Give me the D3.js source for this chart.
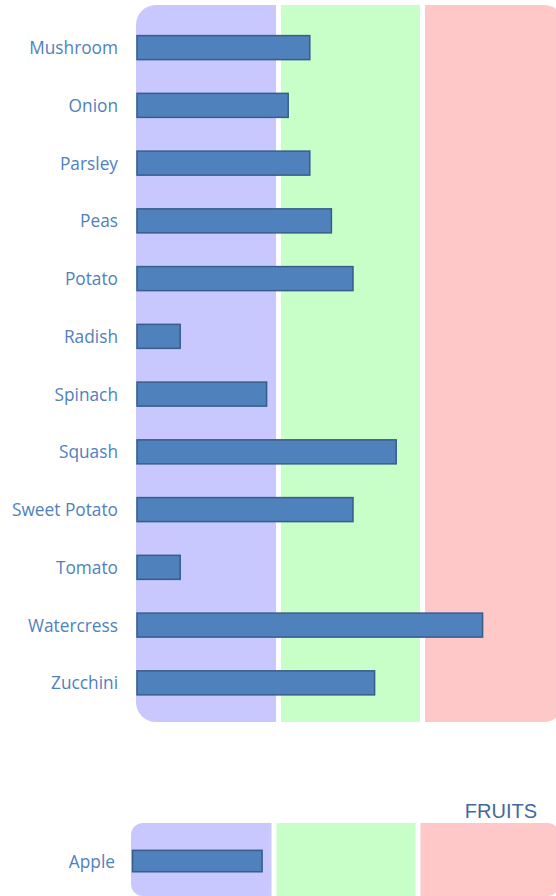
<!DOCTYPE html>
<html>
<head>
<meta charset="utf-8">
<script src="https://cdn.jsdelivr.net/npm/d3@7"></script>
<style>
  body { margin: 0; background: #fff; }
  svg { display: block; }
</style>
</head>
<body>
<div id="chart"></div>
<script>
// Data
const vegCategories = ["Mushroom", "Onion", "Parsley", "Peas", "Potato", "Radish", "Spinach",
                       "Squash", "Sweet Potato", "Tomato", "Watercress", "Zucchini"];
const vegValues = [8, 7, 8, 9, 10, 2, 6, 12, 10, 2, 16, 11];
const fruitCategories = ["Apple"];
const fruitValues = [6];
const bandEdges = [0, 20 / 3, 40 / 3, 20];
const bandColors = ["#c8c8ff", "#c8ffc8", "#ffc8c8"];

const width = 556, height = 896;

const svg = d3.select("#chart")
    .append("svg")
    .attr("width", width)
    .attr("height", height);

const defs = svg.append("defs");

function drawPanel(opts) {
    const g = svg.append("g");

    const x = d3.scaleLinear()
        .domain([0, 20])
        .range([opts.barLeft, opts.barLeft + 432]);

    const y = d3.scaleBand()
        .domain(opts.categories)
        .range([opts.top, opts.bottom])
        .paddingInner(0.584)
        .paddingOuter(0.5)
        .align(0.53);

    // rounded outline of the whole panel, used as a clip
    defs.append("clipPath")
        .attr("id", opts.id)
        .append("rect")
        .attr("x", opts.left)
        .attr("y", opts.top)
        .attr("width", x(20) - 5 - opts.left)
        .attr("height", opts.bottom - opts.top)
        .attr("rx", opts.radius)
        .attr("ry", opts.radius);

    // coloured bands
    g.append("g")
        .attr("clip-path", `url(#${opts.id})`)
        .selectAll("rect")
        .data(bandColors)
        .enter()
        .append("rect")
        .attr("x", (d, i) => i === 0 ? opts.left : x(bandEdges[i]))
        .attr("y", opts.top)
        .attr("width", (d, i) => x(bandEdges[i + 1]) - 5 - (i === 0 ? opts.left : x(bandEdges[i])))
        .attr("height", opts.bottom - opts.top)
        .attr("fill", d => d);

    // bars
    g.selectAll(".bar")
        .data(opts.values)
        .enter()
        .append("rect")
        .attr("class", "bar")
        .attr("x", x(0))
        .attr("y", (d, i) => y(opts.categories[i]))
        .attr("width", d => x(d) - x(0))
        .attr("height", y.bandwidth())
        .attr("fill", "#4f81bd")
        .attr("stroke", "#385d8a")
        .attr("stroke-width", 1.5);

    // category labels
    g.selectAll(".label")
        .data(opts.categories)
        .enter()
        .append("text")
        .attr("class", "label")
        .attr("x", opts.left - opts.labelGap)
        .attr("y", d => y(d) + y.bandwidth() / 2 + 0.5)
        .attr("dy", "0.35em")
        .attr("text-anchor", "end")
        .style("font-family", "'Open Sans', sans-serif")
        .style("font-size", "17.3px")
        .style("fill", "#4f81bd")
        .text(d => d);

    if (opts.title) {
        g.append("text")
            .attr("x", 537)
            .attr("y", opts.top - 5)
            .attr("text-anchor", "end")
            .style("font-family", "'Liberation Sans', Arial, sans-serif")
            .style("font-size", "20px")
            .style("fill", "#41699c")
            .text(opts.title);
    }
}

drawPanel({
    id: "clip-veg",
    categories: vegCategories,
    values: vegValues,
    left: 136,
    barLeft: 137,
    top: 5,
    bottom: 722,
    radius: 20,
    labelGap: 18
});

drawPanel({
    id: "clip-fruit",
    categories: fruitCategories,
    values: fruitValues,
    left: 131,
    barLeft: 132.5,
    top: 823,
    bottom: 896,
    radius: 12,
    labelGap: 16,
    title: "FRUITS"
});
</script>
</body>
</html>
